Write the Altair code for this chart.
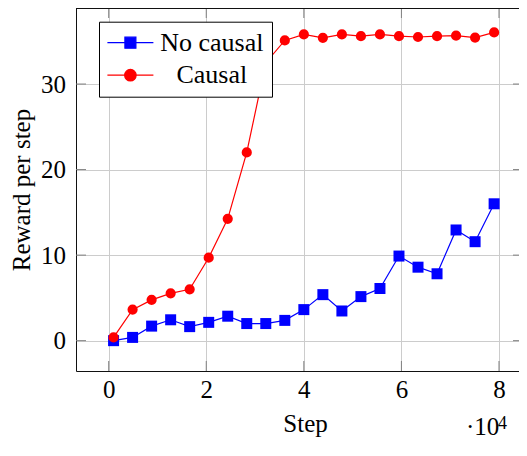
import altair as alt
import pandas as pd

# ---- data ----
steps = [1000, 4900, 8800, 12700, 16600, 20500, 24400, 28300, 32200, 36100, 40000,
         43900, 47800, 51700, 55600, 59500, 63400, 67300, 71200, 75100, 79000]
no_causal = [0.0, 0.38, 1.7, 2.44, 1.64, 2.14, 2.86, 2.0, 2.0, 2.37, 3.63,
             5.38, 3.47, 5.15, 6.1, 9.89, 8.59, 7.82, 12.94, 11.57, 16.0]
causal = [0.38, 3.63, 4.77, 5.53, 6.0, 9.7, 14.24, 22.0, 32.5, 35.1, 35.8,
          35.4, 35.8, 35.6, 35.8, 35.6, 35.5, 35.6, 35.66, 35.43, 36.04]
series_names = ["No causal", "Causal"]
series_colors = ["#0000ff", "#ff0000"]
x_ticks = [0, 20000, 40000, 60000, 80000]
y_ticks = [0, 10, 20, 30]

df_nc = pd.DataFrame({"step": steps, "reward": no_causal, "series": "No causal"})
df_c = pd.DataFrame({"step": steps, "reward": causal, "series": "Causal"})
df_all = pd.concat([df_nc, df_c], ignore_index=True)
df_xt = pd.DataFrame({"step": x_ticks})
df_yt = pd.DataFrame({"reward": y_ticks})
df_one = pd.DataFrame({"a": [0]})

W, H = 443, 363
FONT = "Liberation Serif"
xscale = alt.Scale(domain=[-6700, 84100], nice=False, zero=False)
yscale = alt.Scale(domain=[-3.547, 38.89], nice=False, zero=False)

x_axis = alt.Axis(values=x_ticks, labelExpr="datum.value / 10000", title="Step",
                  domain=True, domainColor="#111111", domainWidth=1,
                  ticks=False, tickSize=0, grid=True, gridColor="#cccccc", gridWidth=1,
                  labelFont=FONT, labelFontSize=25, labelColor="black",
                  labelBaseline="alphabetic", labelPadding=26.4, labelFlush=False,
                  labelOverlap=False,
                  titleFont=FONT, titleFontSize=25, titleFontWeight="normal",
                  titleColor="black", titleBaseline="alphabetic", titleAlign="center",
                  titleX=229, titleY=60)
y_axis = alt.Axis(values=y_ticks, title="Reward per step",
                  domain=True, domainColor="#111111", domainWidth=1,
                  ticks=False, tickSize=0, grid=True, gridColor="#cccccc", gridWidth=1,
                  labelFont=FONT, labelFontSize=25, labelColor="black",
                  labelBaseline="middle", labelPadding=10.5, labelFlush=False,
                  labelOverlap=False,
                  titleFont=FONT, titleFontSize=25, titleFontWeight="normal",
                  titleColor="black", titleBaseline="alphabetic", titleAlign="center",
                  titleAngle=270, titleX=-46.5, titleY=181.5)

X = alt.X("step:Q", scale=xscale, axis=x_axis)
Y = alt.Y("reward:Q", scale=yscale, axis=y_axis)


def line_layer(df, color):
    return alt.Chart(df).mark_line(color=color, strokeWidth=1.2).encode(x=X, y=Y)


def point_layer(df, color, shape, size):
    return alt.Chart(df).mark_point(filled=True, color=color, shape=shape,
                                    size=size, opacity=1).encode(x=X, y=Y)


leg = alt.Legend(orient="none", legendX=23, legendY=13.7, title=None, padding=8,
                 labelFont=FONT, labelFontSize=26, labelColor="black",
                 labelAlign="center", labelOffset=68.4, rowPadding=6.5,
                 symbolSize=576, symbolStrokeWidth=1.2, symbolOpacity=1,
                 symbolOffset=10.4,
                 strokeColor="black", fillColor="white", cornerRadius=0)
# legend sample: a short line with the marker in its middle (unit = 12 px)
sq_path = "M-1.917,0H1.917M-0.458,-0.458H0.458V0.458H-0.458Z"
ci_path = "M-1.917,0H1.917M0.479,0A0.479,0.479,0,1,1,-0.479,0A0.479,0.479,0,1,1,0.479,0Z"
legend_layer = alt.Chart(df_all).mark_point(opacity=0).encode(
    x=X, y=Y,
    fill=alt.Fill("series:N", scale=alt.Scale(domain=series_names, range=series_colors), legend=leg),
    stroke=alt.Stroke("series:N", scale=alt.Scale(domain=series_names, range=series_colors), legend=leg),
    shape=alt.Shape("series:N", scale=alt.Scale(domain=series_names, range=[sq_path, ci_path]), legend=leg),
)

tick_col = "#808080"
xt_bottom = alt.Chart(df_xt).mark_rule(color=tick_col, strokeWidth=1).encode(
    x=X, y=alt.value(H), y2=alt.value(H - 10))
xt_top = alt.Chart(df_xt).mark_rule(color=tick_col, strokeWidth=1).encode(
    x=X, y=alt.value(0), y2=alt.value(10))
yt_left = alt.Chart(df_yt).mark_rule(color=tick_col, strokeWidth=1).encode(
    y=Y, x=alt.value(0), x2=alt.value(10))
yt_right = alt.Chart(df_yt).mark_rule(color=tick_col, strokeWidth=1).encode(
    y=Y, x=alt.value(W - 6), x2=alt.value(W))
top_border = alt.Chart(df_one).mark_rule(color="#111111", strokeWidth=1).encode(
    x=alt.value(0), x2=alt.value(W), y=alt.value(0.5))

mult_text = alt.Chart(df_one).mark_text(font=FONT, fontSize=25, color="black",
                                        align="left", baseline="alphabetic").encode(
    x=alt.value(390), y=alt.value(H + 64), text=alt.value("·10"))
exp_text = alt.Chart(df_one).mark_text(font=FONT, fontSize=18, color="black",
                                       align="left", baseline="alphabetic").encode(
    x=alt.value(422), y=alt.value(H + 58), text=alt.value("4"))

chart = alt.layer(
    line_layer(df_nc, series_colors[0]),
    point_layer(df_nc, series_colors[0], "square", 121),
    line_layer(df_c, series_colors[1]),
    point_layer(df_c, series_colors[1], "circle", 104),
    xt_bottom, xt_top, yt_left, yt_right, top_border,
    legend_layer,
    mult_text, exp_text,
).properties(
    width=W, height=H,
    autosize=alt.AutoSizeParams(type="none"),
    padding={"left": 68, "top": 0, "right": 0, "bottom": 71},
    background="white",
).configure_view(stroke="transparent", strokeWidth=0)

chart.save("out.html", embed_options={"renderer": "svg", "actions": False})
